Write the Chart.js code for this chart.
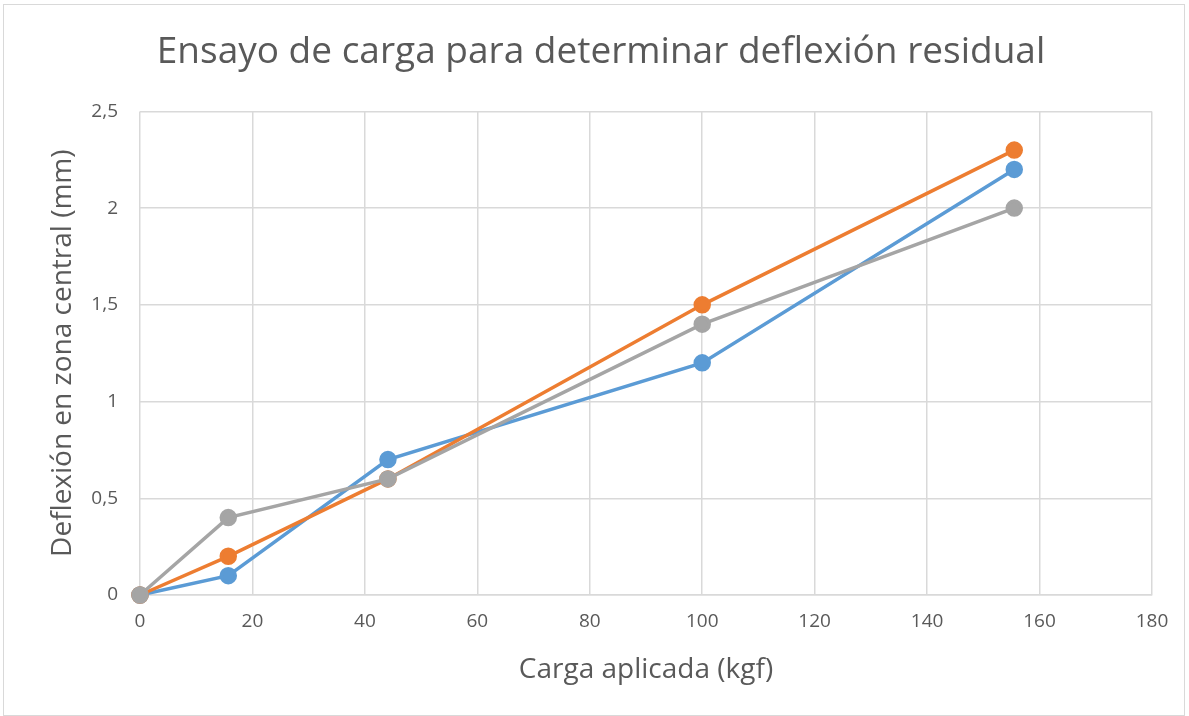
<!DOCTYPE html>
<html>
<head>
<meta charset="utf-8">
<script src="https://cdn.jsdelivr.net/npm/chart.js@4"></script>
<style>
  body { margin: 0; background: #fff; }
  #wrap { position: absolute; left: 3px; top: 4px; width: 1182px; height: 712px; border: 1px solid #d9d9d9; box-sizing: border-box; }
</style>
</head>
<body>
<div id="wrap"><canvas id="myChart"></canvas></div>
<script>
const carga = [0, 15.7, 44.1, 100, 155.5]
const serie1 = [0, 0.1, 0.7, 1.2, 2.2]
const serie2 = [0, 0.2, 0.6, 1.5, 2.3]
const serie3 = [0, 0.4, 0.6, 1.4, 2.0]
const xTicks = [0, 20, 40, 60, 80, 100, 120, 140, 160, 180]
const yTicks = [0, 0.5, 1, 1.5, 2, 2.5]

const font = "'Open Sans', sans-serif"
const textColor = '#595959'
const gridColor = '#d9d9d9'

const toPoints = ys => ys.map((y, i) => ({ x: carga[i], y: y }))

const makeSet = (data, color, order) => ({
  data: toPoints(data),
  borderColor: color,
  backgroundColor: color,
  borderWidth: 3.5,
  pointRadius: 7,
  pointHoverRadius: 7,
  showLine: true,
  clip: false,
  order: order
})

const ctx = document.getElementById('myChart')
new Chart(ctx, {
  type: 'scatter',
  data: {
    datasets: [
      makeSet(serie1, '#5b9bd5', 3),
      makeSet(serie2, '#ed7d31', 2),
      makeSet(serie3, '#a5a5a5', 1)
    ]
  },
  options: {
    responsive: true,
    maintainAspectRatio: false,
    animation: false,
    layout: { padding: { left: 46, right: 32, top: 0, bottom: 0 } },
    plugins: {
      legend: { display: false },
      tooltip: { enabled: false },
      title: {
        display: true,
        text: 'Ensayo de carga para determinar deflexión residual',
        color: textColor,
        font: { family: font, size: 37, weight: 'normal', lineHeight: 1.2 },
        padding: { top: 25, bottom: 37 }
      }
    },
    scales: {
      x: {
        type: 'linear',
        min: 0,
        max: 180,
        afterBuildTicks: s => { s.ticks = xTicks.map(v => ({ value: v })) },
        afterFit: s => { s.height = 120 },
        grid: { color: gridColor, lineWidth: 1.5, drawTicks: false },
        border: { color: gridColor, width: 1.5 },
        ticks: { color: textColor, font: { family: font, size: 19 }, padding: 15 },
        title: {
          display: true,
          text: 'Carga aplicada (kgf)',
          color: textColor,
          font: { family: font, size: 28 },
          padding: { top: 10, bottom: 28 }
        }
      },
      y: {
        type: 'linear',
        min: 0,
        max: 2.5,
        afterBuildTicks: s => { s.ticks = yTicks.map(v => ({ value: v })) },
        afterFit: s => { s.width = 90 },
        grid: { color: gridColor, lineWidth: 1.5, drawTicks: false },
        border: { display: false },
        ticks: {
          color: textColor,
          font: { family: font, size: 19 },
          padding: 22,
          callback: v => String(v).replace('.', ',')
        },
        title: {
          display: true,
          text: 'Deflexión en zona central (mm)',
          color: textColor,
          font: { family: font, size: 28 },
          padding: { top: -4, bottom: 10 }
        }
      }
    }
  }
})
</script>
</body>
</html>
